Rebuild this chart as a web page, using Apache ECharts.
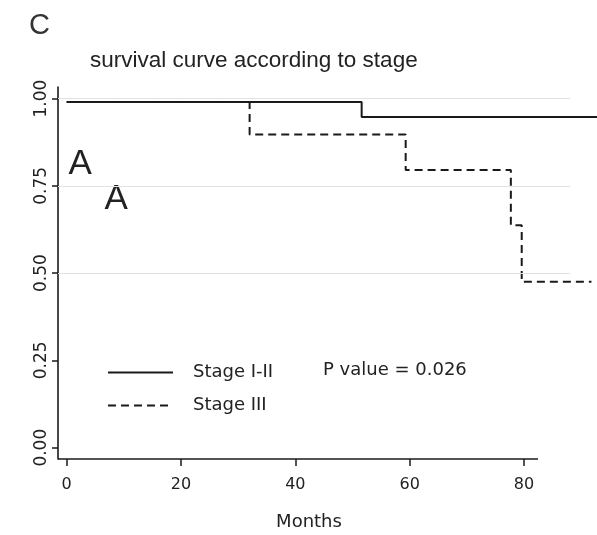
<!DOCTYPE html>
<html>
<head>
<meta charset="utf-8">
<script src="https://cdn.jsdelivr.net/npm/echarts@6/dist/echarts.min.js"></script>
<style>
html,body{margin:0;padding:0;background:#fff;}
#chart{width:597px;height:535px;}
</style>
</head>
<body>
<div id="chart"></div>
<script>
// ---- data ----
const xTicks = [0, 20, 40, 60, 80];
const yTicks = [0, 0.25, 0.5, 0.75, 1];
const gridLevels = [1, 0.75, 0.5];
const stage12Months = [0, 51.6, 93];
const stage12Surv = [0.99, 0.947, 0.947];
const stage3Months = [0, 32.0, 59.3, 77.7, 79.6, 91.8];
const stage3Surv = [0.99, 0.897, 0.795, 0.637, 0.475, 0.475];
const seriesNames = ['Stage I-II', 'Stage III'];
const pValueText = 'P value = 0.026';

const X_MIN = -1.52, X_MAX = 92.77, X_AXIS_END = 82.45, GRID_END = 88.05;
const Y_MIN = -0.0324, Y_MAX = 1.033;
const ink = '#1a1a1a';

const zip = (a, b) => a.map((v, i) => [v, b[i]]);

const markLines = gridLevels.map(l => [
  {coord: [X_MIN, l], lineStyle: {color: '#e2e2e2', width: 1, type: 'solid'}},
  {coord: [GRID_END, l]}
]);
markLines.push([
  {coord: [X_MIN, Y_MIN], lineStyle: {color: ink, width: 1.6, type: 'solid'}},
  {coord: [X_AXIS_END, Y_MIN]}
]);

const chart = echarts.init(document.getElementById('chart'), null, {renderer: 'canvas'});
chart.setOption({
  animation: false,
  backgroundColor: '#fff',
  grid: {left: 58, right: 0, top: 87, bottom: 76, containLabel: false},
  xAxis: {
    type: 'value', min: X_MIN, max: X_MAX,
    splitLine: {show: false},
    axisLine: {show: false, onZero: false},
    axisTick: {show: true, customValues: xTicks, length: 7, lineStyle: {color: ink, width: 1.5}},
    axisLabel: {customValues: xTicks, margin: 18, fontSize: 16, fontFamily: 'DejaVu Sans', color: '#222'}
  },
  yAxis: {
    type: 'value', min: Y_MIN, max: Y_MAX,
    splitLine: {show: false},
    axisLine: {show: true, onZero: false, lineStyle: {color: ink, width: 1.6}},
    axisTick: {show: true, customValues: yTicks, length: 6, lineStyle: {color: ink, width: 1.5}},
    axisLabel: {customValues: yTicks, rotate: 90, margin: 8, fontSize: 17, fontFamily: 'DejaVu Sans', color: '#222',
      formatter: v => v.toFixed(2)}
  },
  legend: {
    data: seriesNames, orient: 'vertical', left: 107, top: 363.5, padding: 0,
    itemWidth: 65, itemHeight: 18, itemGap: 15, selectedMode: false,
    itemStyle: {opacity: 0},
    textStyle: {fontFamily: 'DejaVu Sans', fontSize: 18, color: '#222', padding: [0, 0, 0, 15]}
  },
  series: [
    {
      name: seriesNames[0], type: 'line', step: 'end', symbol: 'none', clip: false,
      data: zip(stage12Months, stage12Surv),
      color: ink,
      lineStyle: {color: ink, width: 2, type: 'solid'},
      markLine: {silent: true, symbol: ['none', 'none'], label: {show: false}, data: markLines}
    },
    {
      name: seriesNames[1], type: 'line', step: 'end', symbol: 'none', clip: false,
      data: zip(stage3Months, stage3Surv),
      color: ink,
      lineStyle: {color: ink, width: 2, type: [8, 5]}
    }
  ],
  graphic: [
    {type: 'text', left: 29, top: 11, style: {text: 'C', fontSize: 29, fontFamily: 'Liberation Sans', fill: '#333'}},
    {type: 'text', x: 90, y: 61, style: {text: 'survival curve according to stage', fontSize: 22.5, fontFamily: 'Liberation Sans', fill: '#222', textVerticalAlign: 'middle'}},
    {type: 'text', x: 68.5, y: 164, style: {text: 'A', fontSize: 35, fontFamily: 'Liberation Sans', fill: '#222', textVerticalAlign: 'middle'}},
    {type: 'text', x: 104.5, y: 199, style: {text: 'A', fontSize: 35, fontFamily: 'Liberation Sans', fill: '#222', textVerticalAlign: 'middle'}},
    {type: 'text', x: 323, y: 370.5, style: {text: pValueText, fontSize: 18, fontFamily: 'DejaVu Sans', fill: '#222', textVerticalAlign: 'middle'}},
    {type: 'text', x: 309, y: 522, style: {text: 'Months', fontSize: 18, fontFamily: 'DejaVu Sans', fill: '#222', textAlign: 'center', textVerticalAlign: 'middle'}}
  ]
});
</script>
</body>
</html>
